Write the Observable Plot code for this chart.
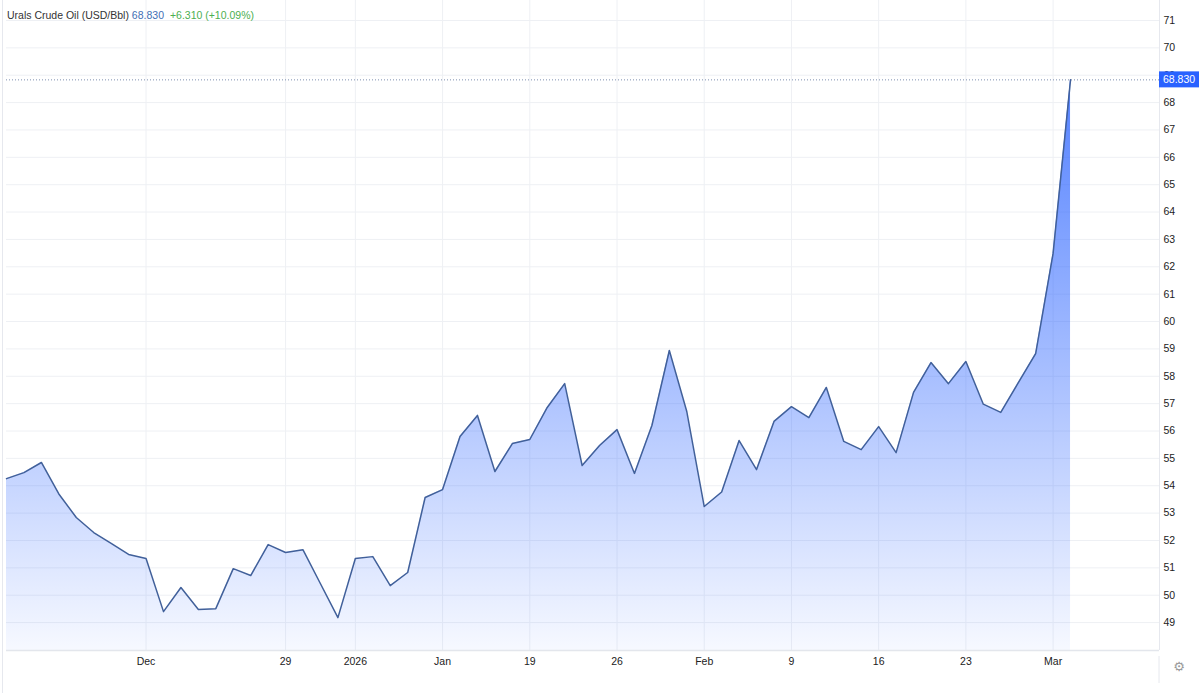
<!DOCTYPE html>
<html>
<head>
<meta charset="utf-8">
<script src="https://cdn.jsdelivr.net/npm/d3@7"></script>
<script src="https://cdn.jsdelivr.net/npm/@observablehq/plot@0.6"></script>
<style>
  html, body { margin: 0; padding: 0; background: #fff; }
  #wrap { position: relative; width: 1200px; height: 693px; overflow: hidden; font-family: "Liberation Sans", Arial, Helvetica, sans-serif; }
  #title { position: absolute; left: 7px; top: 9px; font-size: 10.5px; color: #333; white-space: nowrap; z-index: 2; }
  #title .last { color: #3f6fb5; }
  #title .chg { color: #4caf50; margin-left: 3px; }
  #lborder { position: absolute; left: 2px; top: 0; width: 1px; height: 693px; background: #e6e8ee; }
</style>
</head>
<body>
<div id="wrap">
  <div id="lborder"></div>
  <div id="title"></div>
  <div id="chart"></div>
</div>
<script>
// ---- data ----
const seriesName = "Urals Crude Oil (USD/Bbl)";
const lastText = "68.830";
const changeText = "+6.310 (+10.09%)";
const values = [
  54.26, 54.48, 54.85, 53.70, 52.84, 52.29, 51.89, 51.49, 51.34, 49.40,
  50.28, 49.48, 49.51, 50.97, 50.72, 51.85, 51.56, 51.66, 50.42, 49.18,
  51.34, 51.41, 50.35, 50.83, 53.57, 53.86, 55.80, 56.57, 54.52, 55.54,
  55.69, 56.86, 57.73, 54.74, 55.47, 56.05, 54.45, 56.20, 58.94, 56.71,
  53.24, 53.77, 55.65, 54.59, 56.35, 56.89, 56.49, 57.59, 55.62, 55.32,
  56.16, 55.21, 57.41, 58.50, 57.73, 58.54, 56.98, 56.68, 57.76, 58.83,
  62.49, 68.83
];
const xTickIndex = [8, 16, 20, 25, 30, 35, 40, 45, 50, 55, 60];
const xTickLabels = ["Dec", "29", "2026", "Jan", "19", "26", "Feb", "9", "16", "23", "Mar"];
const yTicks = d3.range(49, 72);
const xDomain = [0, 66.1];
const yDomain = [47.98, 71.73];

// ---- build ----
document.getElementById("title").innerHTML =
  `${seriesName} <span class="last">${lastText}</span> <span class="chg">${changeText}</span>`;

const data = values.map((v, i) => ({i, v}));
const last = values[values.length - 1];
const labelOf = new Map(xTickIndex.map((d, k) => [d, xTickLabels[k]]));

const gridColor = "#eef0f4";
const plot = Plot.plot({
  width: 1200,
  height: 693,
  marginLeft: 6,
  marginRight: 41,
  marginTop: 0,
  marginBottom: 43,
  style: {fontFamily: '"Liberation Sans", Arial, Helvetica, sans-serif', fontSize: "10.5px", color: "#222", background: "transparent"},
  x: {domain: xDomain, axis: null},
  y: {domain: yDomain, axis: null},
  marks: [
    Plot.ruleY(yTicks, {stroke: gridColor, strokeWidth: 1}),
    Plot.ruleX(xTickIndex, {stroke: gridColor, strokeWidth: 1}),
    Plot.areaY(data, {x: "i", y1: yDomain[0], y2: "v", fill: "url(#areaGrad)", curve: "linear"}),
    Plot.lineY(data, {x: "i", y: "v", stroke: "#41609a", strokeWidth: 1.5, curve: "linear"}),
    Plot.ruleY([last], {stroke: "#7d8fb0", strokeWidth: 1, strokeDasharray: "1,2"}),
    Plot.ruleY([yDomain[0]], {stroke: "#e3e6ec", strokeWidth: 1.5}),
    Plot.ruleX([xDomain[1]], {stroke: "#e6e8ee", strokeWidth: 1}),
    Plot.axisX({ticks: xTickIndex, tickFormat: d => labelOf.get(d), tickSize: 0, tickPadding: 7, anchor: "bottom", fill: "#222", label: null}),
    Plot.axisY({ticks: yTicks, tickFormat: d => String(d), tickSize: 0, tickPadding: 4, anchor: "right", textAnchor: "start", fill: "#222", label: null})
  ]
});

const svg = d3.select(plot);
const yS = plot.scale("y");
const xS = plot.scale("x");
const yLast = yS.apply(last);
const yBottom = yS.apply(yDomain[0]);
const xRight = xS.apply(xDomain[1]);

const defs = svg.insert("defs", ":first-child");
const g = defs.append("linearGradient").attr("id", "areaGrad")
  .attr("gradientUnits", "userSpaceOnUse")
  .attr("x1", 0).attr("x2", 0).attr("y1", yLast).attr("y2", yBottom);
g.append("stop").attr("offset", "0%").attr("stop-color", "rgb(41,98,255)").attr("stop-opacity", 0.8);
g.append("stop").attr("offset", "100%").attr("stop-color", "rgb(41,98,255)").attr("stop-opacity", 0.04);

// price label box on the right axis
const box = svg.append("g");
box.append("rect").attr("x", xRight).attr("y", yLast - 8).attr("width", 40).attr("height", 16).attr("fill", "#2962ff");
box.append("text").attr("x", xRight + 4).attr("y", yLast).attr("dy", "0.35em")
  .attr("text-anchor", "start")
  .attr("fill", "#fff").attr("font-size", "10.5px").text(lastText);

// settings cell below the price axis
svg.append("line").attr("x1", xRight).attr("x2", xRight).attr("y1", yBottom + 6).attr("y2", yBottom + 33)
  .attr("stroke", "#e6e8ee");
svg.append("text").attr("x", xRight + 20).attr("y", yBottom + 16).attr("dy", "0.35em")
  .attr("text-anchor", "middle").attr("fill", "#9a9a9a").attr("font-size", "13px")
  .attr("font-family", "DejaVu Sans").text("⚙");

document.getElementById("chart").appendChild(plot);
</script>
</body>
</html>
